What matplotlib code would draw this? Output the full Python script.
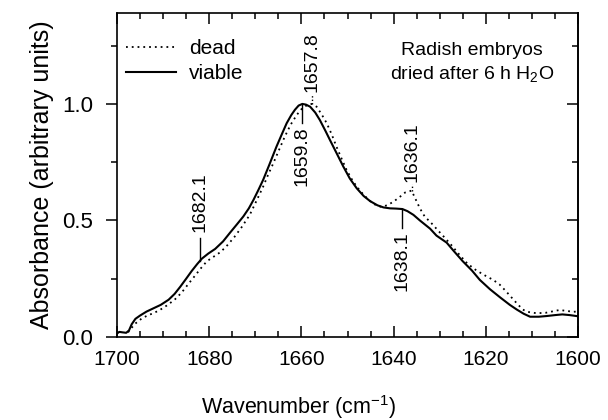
import numpy as np
import matplotlib
matplotlib.use("Agg")
import matplotlib.pyplot as plt
from matplotlib.ticker import MultipleLocator

plt.rcParams['font.family'] = ['Liberation Sans', 'DejaVu Sans']
plt.rcParams['mathtext.fontset'] = 'custom'
plt.rcParams['mathtext.rm'] = 'Liberation Sans'
plt.rcParams['mathtext.default'] = 'regular'

# FTIR amide I region, viable embryos (solid)
viable_x = [1700.0, 1699.5, 1698.8, 1698.0, 1697.4, 1696.8, 1696.0, 1695.0, 1693.6, 1692.0,
            1690.5, 1688.8, 1687.5, 1686.3, 1685.0, 1683.8, 1682.6, 1681.6, 1680.2, 1678.7,
            1677.0, 1675.5, 1674.0, 1672.6, 1671.4, 1670.4, 1669.3, 1668.3, 1667.0, 1665.4,
            1664.2, 1663.2, 1662.2, 1661.4, 1660.6, 1659.8, 1659.0, 1658.1, 1657.0, 1656.0,
            1654.8, 1653.8, 1652.4, 1650.9, 1649.5, 1648.0, 1646.5, 1645.1, 1643.5, 1642.2,
            1640.8, 1639.5, 1638.1, 1637.0, 1635.7, 1634.3, 1632.1, 1630.7, 1628.5, 1627.0,
            1625.0, 1623.0, 1621.3, 1619.1, 1616.9, 1614.8, 1613.3, 1611.8, 1610.4, 1608.5,
            1606.8, 1605.0, 1603.4, 1601.8, 1600.0]
viable_y = [0.015, 0.022, 0.020, 0.018, 0.028, 0.055, 0.078, 0.092, 0.109, 0.124,
            0.138, 0.160, 0.185, 0.215, 0.250, 0.283, 0.313, 0.336, 0.358, 0.378,
            0.410, 0.447, 0.483, 0.517, 0.552, 0.588, 0.632, 0.674, 0.737, 0.817,
            0.872, 0.917, 0.952, 0.975, 0.993, 1.000, 0.997, 0.988, 0.963, 0.931,
            0.885, 0.845, 0.790, 0.731, 0.680, 0.638, 0.605, 0.583, 0.565, 0.556,
            0.552, 0.551, 0.549, 0.540, 0.524, 0.500, 0.465, 0.435, 0.405, 0.370,
            0.325, 0.285, 0.245, 0.205, 0.170, 0.138, 0.118, 0.100, 0.087, 0.087,
            0.090, 0.094, 0.097, 0.094, 0.089]

# dead embryos (dotted)
dead_x = [1697.6, 1696.8, 1696.0, 1694.6, 1693.2, 1692.1, 1690.7, 1689.2, 1687.5, 1686.0,
          1684.5, 1683.0, 1681.8, 1680.5, 1679.0, 1677.5, 1676.0, 1674.5, 1673.0, 1671.2,
          1669.8, 1668.3, 1667.2, 1666.1, 1664.8, 1663.6, 1662.3, 1661.0, 1659.8, 1658.5,
          1657.8, 1656.7, 1655.6, 1654.5, 1653.4, 1652.4, 1651.3, 1650.2, 1649.1, 1648.0,
          1646.5, 1645.1, 1643.8, 1642.6, 1641.3, 1640.0, 1638.6, 1637.5, 1636.1, 1635.2,
          1634.3, 1633.2, 1632.1, 1630.5, 1629.0, 1627.5, 1625.6, 1624.0, 1622.0, 1620.0,
          1618.4, 1617.0, 1615.8, 1614.8, 1613.3, 1612.0, 1611.0, 1609.0, 1607.0, 1605.5,
          1604.0, 1602.5, 1601.0, 1600.0]
dead_y = [0.020, 0.040, 0.058, 0.080, 0.094, 0.102, 0.116, 0.135, 0.160, 0.190,
          0.228, 0.265, 0.295, 0.325, 0.345, 0.365, 0.395, 0.430, 0.470, 0.524,
          0.582, 0.645, 0.697, 0.745, 0.805, 0.860, 0.912, 0.953, 0.982, 0.998,
          1.000, 0.988, 0.955, 0.917, 0.868, 0.817, 0.766, 0.717, 0.678, 0.645,
          0.610, 0.583, 0.565, 0.558, 0.566, 0.581, 0.602, 0.620, 0.628, 0.590,
          0.552, 0.515, 0.495, 0.460, 0.428, 0.395, 0.350, 0.315, 0.285, 0.262,
          0.245, 0.225, 0.200, 0.178, 0.145, 0.118, 0.108, 0.102, 0.104, 0.110,
          0.116, 0.112, 0.108, 0.110]

# band positions and where their marker lines end
viable_peaks = [1682.1, 1659.8, 1638.1]
viable_marker_end = [0.425, 0.918, 0.467]
dead_peaks = [1657.8, 1636.1]
dead_marker_end = [1.04, 0.655]

fig = plt.figure(figsize=(6.08, 4.2), dpi=100)
ax = fig.add_axes([0.1924, 0.1976, 0.7583, 0.7714])

ax.plot(dead_x, dead_y, color='black', lw=1.3, linestyle=(0, (1, 2.2)), label='dead')
ax.plot(viable_x, viable_y, color='black', lw=1.5, label='viable')

vx = np.array(viable_x)[::-1]
vy = np.array(viable_y)[::-1]
dx = np.array(dead_x)[::-1]
dy = np.array(dead_y)[::-1]

for p, end in zip(viable_peaks, viable_marker_end):
    y0 = np.interp(p, vx, vy)
    ax.plot([p, p], [y0, end], color='black', lw=1.0)
    if end > y0:
        ax.text(p, end + 0.025, f"{p:.1f}", rotation=90, ha='center', va='bottom', fontsize=14)
    else:
        ax.text(p, end - 0.015, f"{p:.1f}", rotation=90, ha='center', va='top', fontsize=14)

for p, end in zip(dead_peaks, dead_marker_end):
    y0 = np.interp(p, dx, dy)
    ax.plot([p, p], [y0, end], color='black', lw=1.0, linestyle=(0, (1, 1.5)))
    ax.text(p, end + 0.01, f"{p:.1f}", rotation=90, ha='center', va='bottom', fontsize=14)

ax.set_xlim(1700, 1600)
ax.set_ylim(0, 1.39)
ax.xaxis.set_major_locator(MultipleLocator(20))
ax.xaxis.set_minor_locator(MultipleLocator(5))
ax.yaxis.set_major_locator(MultipleLocator(0.5))
ax.yaxis.set_minor_locator(MultipleLocator(0.25))
ax.yaxis.set_major_formatter(plt.FormatStrFormatter('%.1f'))

ax.tick_params(axis='x', which='both', direction='in', top=True, bottom=True, width=1.1)
ax.tick_params(axis='x', which='major', length=8, labelsize=15, pad=9)
ax.tick_params(axis='x', which='minor', length=4)
ax.tick_params(axis='y', which='both', direction='out', left=True, right=False, width=1.1)
ax.tick_params(axis='y', which='major', length=8, labelsize=16, pad=9)
ax.tick_params(axis='y', which='minor', length=4)

# right side ticks point inward
ax2 = ax.secondary_yaxis('right')
ax2.yaxis.set_major_locator(MultipleLocator(0.5))
ax2.yaxis.set_minor_locator(MultipleLocator(0.25))
ax2.tick_params(which='both', direction='in', labelright=False, width=1.1)
ax2.tick_params(which='major', length=8)
ax2.tick_params(which='minor', length=4)

for s in ax.spines.values():
    s.set_linewidth(1.2)
ax2.spines['right'].set_linewidth(1.2)

ax.set_xlabel('Wavenumber (cm$^{-1}$)', fontsize=15.5, labelpad=15)
ax.xaxis.set_label_coords(0.395, -0.215)
ax.xaxis.label.set_va('center')
ax.set_ylabel('Absorbance (arbitrary units)', fontsize=18, labelpad=6)

ax.legend(loc='upper left', bbox_to_anchor=(0.02, 0.92), frameon=False, fontsize=15,
          handlelength=2.4, handletextpad=0.6, labelspacing=0.3, borderpad=0,
          borderaxespad=0)

ax.text(0.77, 0.91, 'Radish embryos\ndried after 6 h H$_2$O', transform=ax.transAxes,
        ha='center', va='top', fontsize=14, linespacing=1.3)

plt.savefig('out.png', dpi=100)
